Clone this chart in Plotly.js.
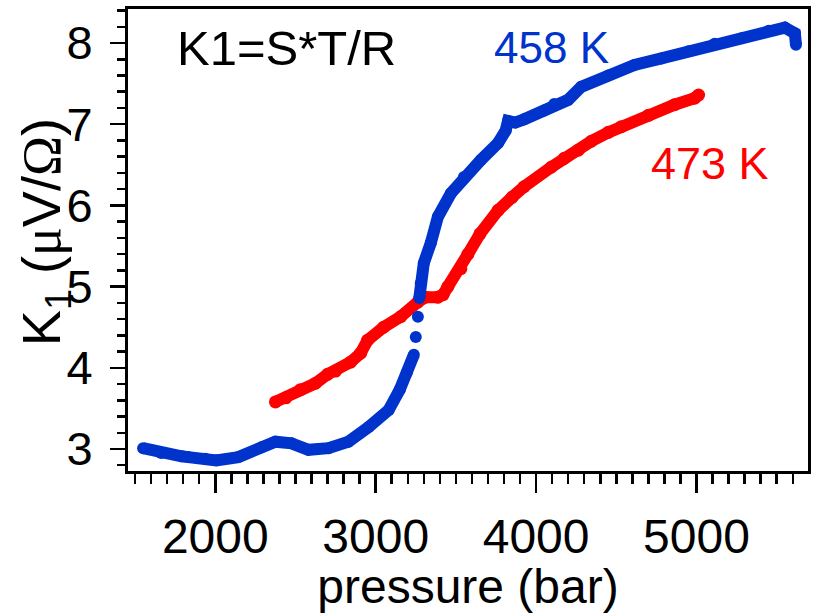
<!DOCTYPE html>
<html>
<head>
<meta charset="utf-8">
<script src="https://cdn.plot.ly/plotly-3.0.1.min.js"></script>
<style>html,body{margin:0;padding:0;background:#fff;}#chart{width:815px;height:613px;}</style>
</head>
<body>
<div id="chart"></div>
<script>
// 458 K series (blue)
const blueP = [1550, 1663, 1790, 1831, 1938, 2006, 2144, 2288, 2375, 2475, 2581, 2706, 2831, 2956, 3081, 3150, 3194, 3238, null, 3250, null, 3263, null, 3272, 3281, 3300, 3344, 3388, 3469, 3550, 3656, 3763, 3810, 3825, 3870, 3925, 4050, 4113, 4200, 4281, 4450, 4613, 4781, 4950, 5113, 5281, 5450, 5550, 5613, 5620];
const blueK = [3.01, 2.95, 2.91, 2.90, 2.88, 2.86, 2.90, 3.02, 3.09, 3.07, 2.99, 3.01, 3.09, 3.27, 3.48, 3.73, 3.94, 4.16, null, 4.38, null, 4.63, null, 4.86, 5.04, 5.29, 5.54, 5.86, 6.15, 6.35, 6.56, 6.77, 6.92, 7.04, 7.02, 7.06, 7.17, 7.25, 7.30, 7.46, 7.60, 7.73, 7.81, 7.90, 7.99, 8.06, 8.15, 8.19, 8.12, 7.98];
// 473 K series (red)
const redP = [2375, 2440, 2531, 2625, 2700, 2750, 2844, 2906, 2950, 3050, 3156, 3263, 3310, 3388, 3420, 3450, 3531, 3575, 3650, 3763, 3850, 3925, 4094, 4175, 4263, 4344, 4450, 4531, 4700, 4863, 4988, 5013];
const redK = [3.58, 3.63, 3.73, 3.81, 3.92, 3.96, 4.07, 4.18, 4.34, 4.50, 4.63, 4.81, 4.87, 4.87, 4.90, 5.00, 5.22, 5.40, 5.65, 5.94, 6.10, 6.23, 6.47, 6.58, 6.68, 6.79, 6.90, 6.97, 7.11, 7.24, 7.32, 7.36];

const xTickVals = [2000, 3000, 4000, 5000];
const xTickText = ['2000', '3000', '4000', '5000'];
const yTickVals = [3, 4, 5, 6, 7, 8];
const yTickText = ['3', '4', '5', '6', '7', '8'];

const BLUE = '#0033cc';
const RED = '#ff0000';
const FONT = 'Liberation Sans, Arial, sans-serif';

const traces = [
  {x: redP, y: redK, type: 'scatter', mode: 'lines+markers', name: '473 K',
   line: {color: RED, width: 12}, marker: {color: RED, size: 13}},
  {x: blueP, y: blueK, type: 'scatter', mode: 'lines+markers', name: '458 K',
   line: {color: BLUE, width: 12}, marker: {color: BLUE, size: 12}}
];

const layout = {
  width: 815, height: 613,
  margin: {l: 128, r: 7, t: 9, b: 142},
  paper_bgcolor: '#fff', plot_bgcolor: '#fff',
  showlegend: false,
  font: {family: FONT, color: '#000'},
  xaxis: {
    range: [1456, 5695],
    tickmode: 'array', tickvals: xTickVals, ticktext: xTickText,
    ticks: 'outside', ticklen: 19, tickwidth: 2.5, tickcolor: '#000',
    showline: true, linewidth: 3, linecolor: '#000', mirror: true,
    showgrid: false, zeroline: false,
    tickfont: {family: FONT, size: 48, color: '#000'},
    ticklabelstandoff: 2,
    minor: {ticks: 'outside', dtick: 100, tick0: 0, ticklen: 10, tickwidth: 2.5, tickcolor: '#000', showgrid: false},
    title: {text: 'pressure (bar)', font: {family: FONT, size: 48, color: '#000'}, standoff: 0}
  },
  yaxis: {
    range: [2.729, 8.419],
    tickmode: 'array', tickvals: yTickVals, ticktext: yTickText,
    ticks: 'outside', ticklen: 15, tickwidth: 2.5, tickcolor: '#000',
    showline: true, linewidth: 3, linecolor: '#000', mirror: true,
    showgrid: false, zeroline: false,
    tickfont: {family: FONT, size: 47, color: '#000'},
    ticklabelstandoff: 8,
    minor: {ticks: 'outside', dtick: 0.2, tick0: 0, ticklen: 8, tickwidth: 2.5, tickcolor: '#000', showgrid: false}
  },
  annotations: [
    {xref: 'paper', yref: 'paper', x: 0, y: 0.517, xshift: -83, textangle: -90,
     text: 'K<sub>1</sub> (<span style="font-family:Liberation Serif">μ</span>V/<span style="font-family:Liberation Serif">Ω</span>)',
     showarrow: false, xanchor: 'center', yanchor: 'middle',
     font: {family: FONT, size: 54, color: '#000'}},
    {x: 1750, y: 7.94, xref: 'x', yref: 'y', text: 'K1=S*T/R', showarrow: false,
     xanchor: 'left', yanchor: 'middle', font: {family: FONT, size: 49, color: '#000'}},
    {x: 4094, y: 7.94, xref: 'x', yref: 'y', text: '458 K', showarrow: false,
     xanchor: 'center', yanchor: 'middle', font: {family: FONT, size: 44, color: BLUE}},
    {x: 5081, y: 6.52, xref: 'x', yref: 'y', text: '473 K', showarrow: false,
     xanchor: 'center', yanchor: 'middle', font: {family: FONT, size: 45, color: RED}}
  ]
};

Plotly.newPlot('chart', traces, layout, {displayModeBar: false, staticPlot: true});
</script>
</body>
</html>
